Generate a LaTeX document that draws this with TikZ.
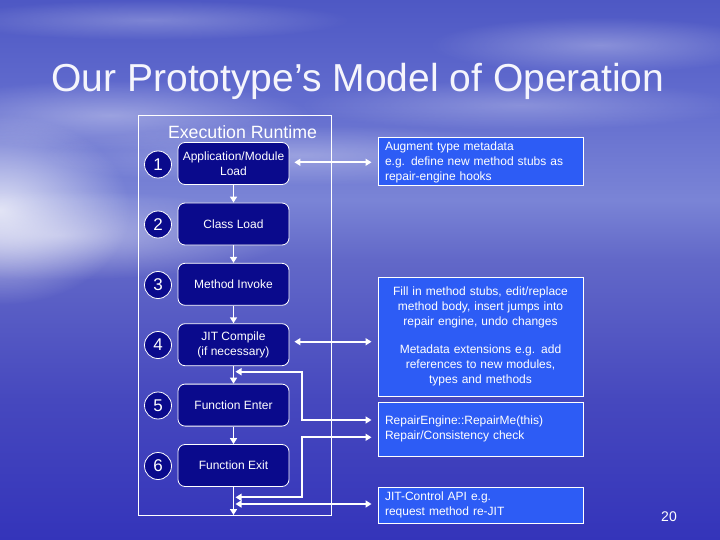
\documentclass[tikz,border=0pt]{standalone}
\usepackage{fontspec}
\setmainfont{Liberation Sans}
\usetikzlibrary{arrows.meta,fadings}

\definecolor{navybox}{RGB}{10,10,140}
\definecolor{bluebox}{RGB}{45,92,245}
\definecolor{bgc0}{RGB}{78,88,196}
\definecolor{bgc1}{RGB}{98,108,206}
\definecolor{bgc2}{RGB}{122,132,214}
\definecolor{bgc3}{RGB}{98,104,200}
\definecolor{bgc4}{RGB}{70,72,190}
\definecolor{bgc5}{RGB}{52,52,186}
\definecolor{titlecol}{RGB}{245,245,252}

\pgfdeclareverticalshading{bgshade}{100bp}{color(0bp)=(bgc5); color(25bp)=(bgc5); color(37.96bp)=(bgc4); color(50.93bp)=(bgc3); color(56.48bp)=(bgc2); color(65.74bp)=(bgc1); color(75bp)=(bgc0); color(100bp)=(bgc0)}

\tikzfading[name=softglow, inner color=transparent!0, outer color=transparent!100]

\begin{document}
\begin{tikzpicture}[x=1pt,y=-1pt,
  stepbox/.style={draw=white, line width=0.8pt, fill=navybox, rounded corners=7pt,
    minimum width=111pt, minimum height=42pt, align=center, text=white,
    font=\fontsize{12}{14.5}\selectfont, inner sep=2pt},
  numcirc/.style={circle, draw=white, line width=0.8pt, fill=navybox, minimum size=27pt,
    inner sep=0pt, text=white, font=\fontsize{17}{17}\selectfont},
  infobox/.style={draw=white, line width=1pt, fill=bluebox, text=white,
    font=\fontsize{12}{15}\selectfont, inner xsep=7pt, inner ysep=3pt, text width=191pt},
  flow/.style={white, line width=1.8pt, -{Triangle[length=6pt,width=7pt]}},
  link/.style={white, line width=1.8pt, {Triangle[length=6pt,width=7pt]}-{Triangle[length=6pt,width=7pt]}},
  glow/.style={white, path fading=softglow}
]
\useasboundingbox (0,0) rectangle (720,540);
% background
\shade[shading=bgshade] (0,0) rectangle (720,540);
\fill[glow, opacity=0.75] (0,210) ellipse (130 and 95);
\fill[glow, opacity=0.45] (60,235) ellipse (230 and 45);
\fill[glow, opacity=0.35] (110,115) ellipse (200 and 35);
\fill[glow, opacity=0.3] (300,155) ellipse (260 and 30);
\fill[glow, opacity=0.3] (600,45) ellipse (170 and 28);
\fill[glow, opacity=0.25] (520,105) ellipse (220 and 25);
\fill[glow, opacity=0.25] (150,20) ellipse (200 and 20);

% title
\node[font=\fontsize{39}{39}\selectfont, text=titlecol, anchor=base] (title) at (358,92) {Our Prototype’s Model of Operation};

% frame
\draw[white, line width=0.9pt] (138,115) rectangle (331,515);
\node[text=white, font=\fontsize{17.75}{18}\selectfont] (rt) at (242.5,132) {Execution Runtime};

% step boxes
\node[stepbox] (b1) at (233.5,163.5) {Application/Module\\Load};
\node[stepbox] (b2) at (233.5,224) {Class Load};
\node[stepbox] (b3) at (233.5,284.3) {Method Invoke};
\node[stepbox] (b4) at (233.5,344.7) {JIT Compile\\(if necessary)};
\node[stepbox] (b5) at (233.5,405.1) {Function Enter};
\node[stepbox] (b6) at (233.5,465.5) {Function Exit};

\node[numcirc] (n1) at (158,164.5) {1};
\node[numcirc] (n2) at (158,224.5) {2};
\node[numcirc] (n3) at (158,285) {3};
\node[numcirc] (n4) at (158,345) {4};
\node[numcirc] (n5) at (158,405.5) {5};
\node[numcirc] (n6) at (158,466) {6};

% info boxes
\node[infobox, minimum height=48pt] (A) at (480.5,162) {Augment type metadata\\e.g. define new method stubs as\\repair-engine hooks};
\node[infobox, minimum height=119pt, align=center] (B) at (480.5,336.5) {Fill in method stubs, edit/replace\\method body, insert jumps into\\repair engine, undo changes\\[13pt]Metadata extensions e.g. add\\references to new modules,\\types and methods};
\node[infobox, minimum height=54pt] (C) at (480.5,429) {RepairEngine::RepairMe(this)\\Repair/Consistency check};
\node[infobox, minimum height=36pt] (D) at (480.5,505) {JIT-Control API e.g.\\request method re-JIT};

% flow arrows
\coordinate (fend) at (233.5,515);
\draw[flow] (b1.south) -- (b2.north);
\draw[flow] (b2.south) -- (b3.north);
\draw[flow] (b3.south) -- (b4.north);
\draw[flow] (b4.south) -- (b5.north);
\draw[flow] (b5.south) -- (b6.north);
\draw[flow] (b6.south) -- (fend);

% links
\draw[link, shorten <=5pt, shorten >=6pt] ([yshift=1.2pt]b1.east) -- ([yshift=1.2pt]b1.east -| A.west);
\draw[link, shorten <=5pt, shorten >=6pt] ([yshift=3pt]b4.east) -- ([yshift=3pt]b4.east -| B.west);

\coordinate (j1) at (233.5,371.7);
\coordinate (k1) at (302,371.7);
\coordinate (k2) at (302,420);
\draw[link, shorten <=2pt, shorten >=6pt] (j1) -- (k1) -- (k2) -- (k2 -| C.west);

\coordinate (j2) at (233.5,497.3);
\coordinate (k3) at (302,497.3);
\coordinate (k4) at (302,437.3);
\draw[link, shorten <=2pt, shorten >=6pt] (j2) -- (k3) -- (k4) -- (k4 -| C.west);

\coordinate (j3) at (233.5,504);
\draw[link, shorten <=2pt, shorten >=6pt] (j3) -- (j3 -| D.west);

% page number
\node[text=white, font=\fontsize{14}{14}\selectfont] (pg) at (669,517) {20};
\end{tikzpicture}
\end{document}
